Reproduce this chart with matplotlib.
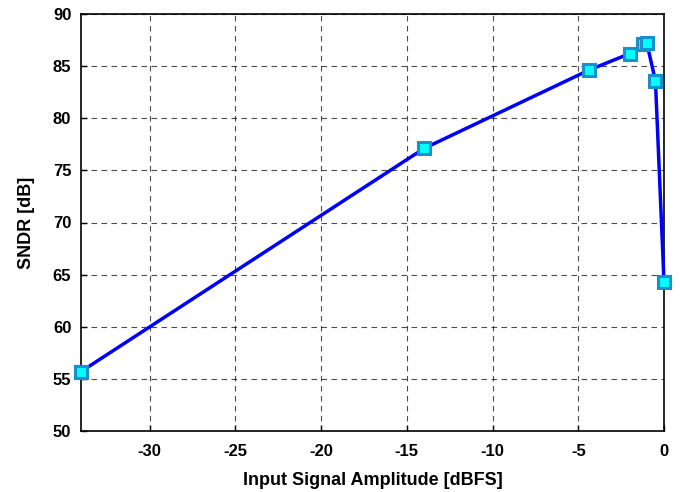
import matplotlib
matplotlib.use("Agg")
import matplotlib.pyplot as plt

plt.rcParams['font.family'] = ['Liberation Sans', 'DejaVu Sans']
plt.rcParams['axes.unicode_minus'] = False

amplitude_dbfs = [-34.0, -14.0, -4.4, -2.0, -1.2, -1.0, -0.5, 0.0]
sndr_db = [55.7, 77.1, 84.6, 86.2, 87.1, 87.2, 83.6, 64.3]
x_ticks = [-30, -25, -20, -15, -10, -5, 0]
y_ticks = [50, 55, 60, 65, 70, 75, 80, 85, 90]

fig = plt.figure(figsize=(6.8, 4.92), dpi=100)
ax = fig.add_axes([81/680, 1-431/492, 583/680, 417/492])

ax.plot(amplitude_dbfs, sndr_db, color='#0000ff', linewidth=2.5,
        marker='s', markersize=8.5, markerfacecolor='#00ffff',
        markeredgecolor='#1a8fcc', markeredgewidth=2.2, zorder=3, clip_on=False)

ax.set_xlim(-34, 0)
ax.set_ylim(50, 90)
ax.set_xticks(x_ticks)
ax.set_yticks(y_ticks)
ax.grid(True, color='black', linestyle=(0, (5, 4)), linewidth=0.8, alpha=0.7)
ax.tick_params(direction='in', length=4, labelsize=12, width=1)
ax.tick_params(axis='x', pad=9)
ax.tick_params(axis='y', pad=7)
for lab in ax.get_xticklabels() + ax.get_yticklabels():
    lab.set_fontweight('bold')
for s in ax.spines.values():
    s.set_linewidth(1.2)

ax.set_xlabel('Input Signal Amplitude [dBFS]', fontsize=13, fontweight='bold', labelpad=10)
ax.set_ylabel('SNDR [dB]', fontsize=13, fontweight='bold', labelpad=13)

fig.savefig('out.png', dpi=100)
